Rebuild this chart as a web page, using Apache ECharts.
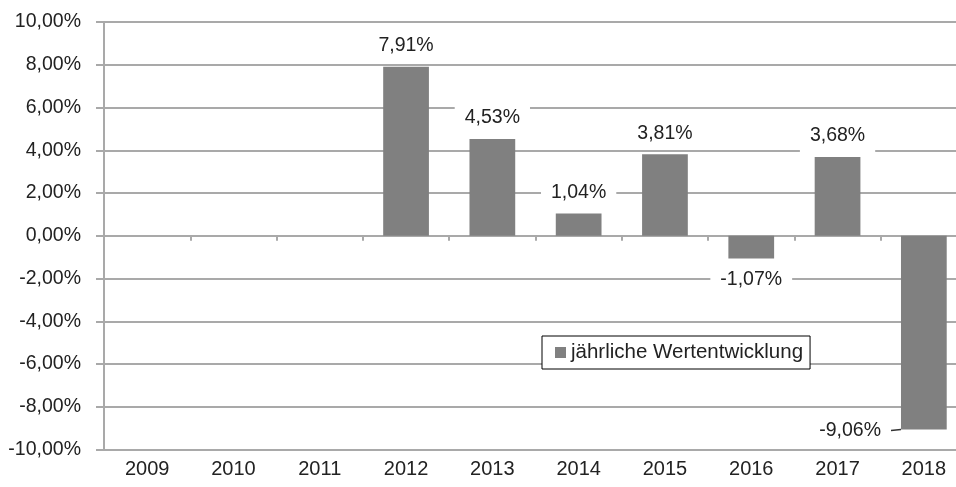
<!DOCTYPE html>
<html>
<head>
<meta charset="utf-8">
<script src="https://cdn.jsdelivr.net/npm/echarts@6/dist/echarts.min.js"></script>
<style>
  html, body { margin: 0; padding: 0; background: #fff; overflow: hidden; }
  #chart { width: 956px; height: 487px; }
</style>
</head>
<body>
<div id="chart"></div>
<script>
// Daten
var jahre = ['2009', '2010', '2011', '2012', '2013', '2014', '2015', '2016', '2017', '2018'];
var wertentwicklung = [null, null, null, 7.91, 4.53, 1.04, 3.81, -1.07, 3.68, -9.06];
var serienName = 'jährliche Wertentwicklung';

var schrift = 'Liberation Sans, Arial, sans-serif';
var grau = '#a9a9a9';

function prozent(v) {
  return v.toFixed(2).replace('.', ',') + '%';
}

var chart = echarts.init(document.getElementById('chart'));

// Einzelne Balken: positive Werte oben, negative unten beschriftet
var daten = wertentwicklung.map(function (v, i) {
  if (v === null) return null;
  var item = { value: v, label: { position: v >= 0 ? 'top' : 'bottom' } };
  if (i === wertentwicklung.length - 1) {
    item.labelLine = { show: true, lineStyle: { color: '#333', width: 1.5 } };
  }
  return item;
});

var option = {
  animation: false,
  grid: { left: 104, width: 863, top: 22, height: 427.5, outerBoundsMode: 'none', containLabel: false },
  legend: {
    data: [serienName],
    left: 542,
    top: 336,
    orient: 'horizontal',
    backgroundColor: '#fff',
    borderColor: '#000',
    borderWidth: 1,
    padding: [6, 7, 6, 13],
    itemWidth: 11,
    itemHeight: 11,
    icon: 'rect',
    textStyle: { fontFamily: schrift, fontSize: 20.5, color: '#222' }
  },
  xAxis: [
    {
      type: 'category',
      data: jahre,
      position: 'bottom',
      axisLine: { onZero: true, lineStyle: { color: grau, width: 2 } },
      axisTick: { show: true, interval: 0, length: 5, lineStyle: { color: grau, width: 2 } },
      axisLabel: { show: false },
      splitLine: { show: false }
    },
    {
      type: 'category',
      data: jahre,
      position: 'bottom',
      axisLine: { show: false, onZero: false },
      axisTick: { show: false },
      axisLabel: { margin: 10, fontFamily: schrift, fontSize: 20, color: '#222' }
    }
  ],
  yAxis: {
    type: 'value',
    min: -10,
    max: 10,
    interval: 2,
    axisLine: { show: true, lineStyle: { color: grau, width: 2 } },
    axisTick: { show: true, length: 8, lineStyle: { color: grau, width: 2 } },
    axisLabel: {
      margin: 23,
      fontFamily: schrift,
      fontSize: 19.5,
      color: '#222',
      formatter: function (v) { return prozent(v); }
    },
    splitLine: { show: true, lineStyle: { color: grau, width: 2 } }
  },
  series: [
    {
      name: serienName,
      type: 'bar',
      xAxisIndex: 0,
      data: daten,
      barCategoryGap: '47%',
      itemStyle: { color: '#808080' },
      label: {
        show: true,
        distance: 5,
        fontFamily: schrift,
        fontSize: 19.5,
        color: '#222',
        backgroundColor: '#fff',
        padding: [6, 10, 6, 10],
        formatter: function (p) { return prozent(p.value); }
      },
      labelLayout: function (p) {
        // letzte Beschriftung links neben das Balkenende setzen, mit Linie
        if (p.dataIndex !== wertentwicklung.length - 1) return {};
        var unten = p.rect.y + p.rect.height;
        return {
          x: p.rect.x - 10,
          y: unten + 1,
          align: 'right',
          verticalAlign: 'middle',
          labelLinePoints: [[p.rect.x - 10, unten], [p.rect.x + p.rect.width / 2, unten]]
        };
      }
    }
  ]
};

chart.setOption(option);
</script>
</body>
</html>
